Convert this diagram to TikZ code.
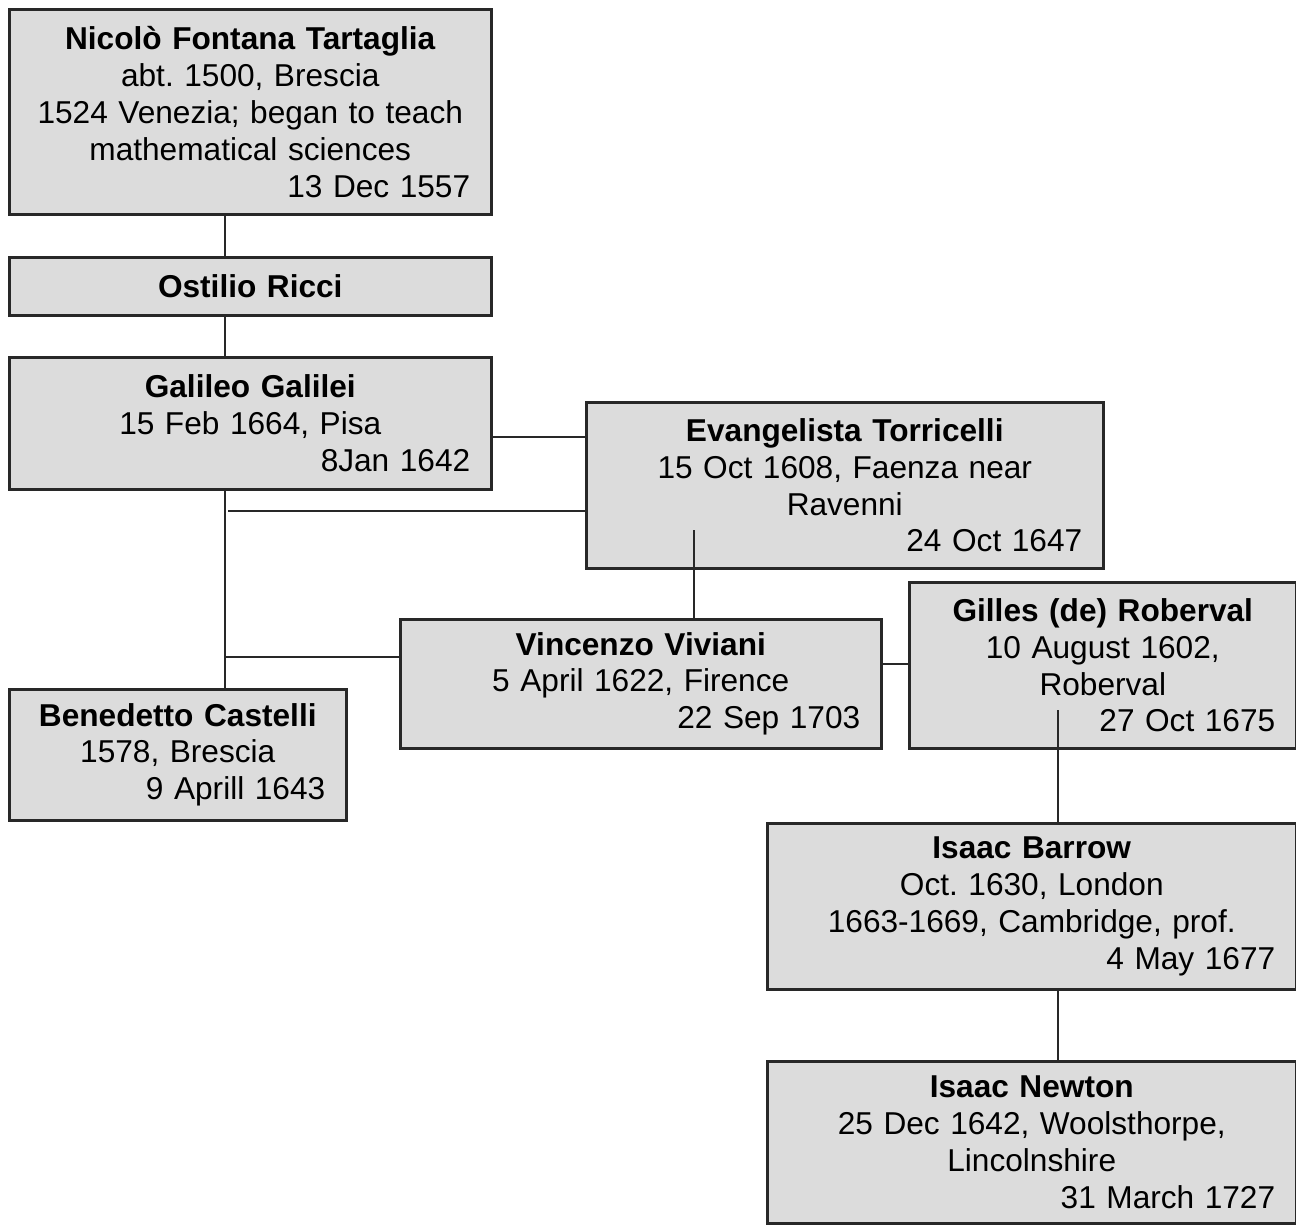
\documentclass[tikz,border=0pt]{standalone}
\usepackage{fontspec}
\setmainfont{Liberation Sans}
\usepackage{xcolor}
\definecolor{boxgray}{RGB}{220,220,220}
\definecolor{boxline}{RGB}{40,40,40}
\newcommand{\died}[1]{\\\makebox[\linewidth][r]{#1}}
\frenchspacing

\begin{document}
\begin{tikzpicture}[x=0.02cm,y=-0.02cm]
    \tikzset{person/.style={draw=boxline,fill=boxgray,line width=1.5pt,anchor=north west,inner xsep=0.42cm,inner ysep=0pt,align=center,font=\fontsize{18}{21}\selectfont}}
    \tikzset{link/.style={draw=boxline,line width=1.2pt}}
    \useasboundingbox (0,0) rectangle (1296,1225);
    % people
    \node[person,text width=8.8cm,minimum width=9.64cm,minimum height=4.1cm] (tartaglia) at (8,8) {\textbf{Nicolò Fontana Tartaglia}\\abt. 1500, Brescia\\1524 Venezia; began to teach\\mathematical sciences\died{13 Dec 1557}};
    \node[person,text width=8.8cm,minimum width=9.64cm,minimum height=1.16cm] (ricci) at (8,256) {\textbf{Ostilio Ricci}};
    \node[person,text width=8.8cm,minimum width=9.64cm,minimum height=2.64cm] (galilei) at (8,356) {\textbf{Galileo Galilei}\\15 Feb 1664, Pisa\died{8Jan 1642}};
    \node[person,text width=9.5cm,minimum width=10.34cm,minimum height=3.32cm] (torricelli) at (585,401) {\textbf{Evangelista Torricelli}\\15 Oct 1608, Faenza near\\Ravenni\died{24 Oct 1647}};
    \node[person,text width=8.78cm,minimum width=9.62cm,minimum height=2.58cm] (viviani) at (399,618) {\textbf{Vincenzo Viviani}\\5 April 1622, Firence\died{22 Sep 1703}};
    \node[person,text width=6.9cm,minimum width=7.74cm,minimum height=3.32cm] (roberval) at (908,581) {\textbf{Gilles (de) Roberval}\\10 August 1602,\\Roberval\died{27 Oct 1675}};
    \node[person,text width=5.9cm,minimum width=6.74cm,minimum height=2.62cm] (castelli) at (8,688) {\textbf{Benedetto Castelli}\\1578, Brescia\died{9 Aprill 1643}};
    \node[person,text width=9.74cm,minimum width=10.58cm,minimum height=3.32cm] (barrow) at (766,822) {\textbf{Isaac Barrow}\\Oct. 1630, London\\1663-1669, Cambridge, prof.\died{4 May 1677}};
    \node[person,text width=9.74cm,minimum width=10.58cm,minimum height=3.24cm] (newton) at (766,1060) {\textbf{Isaac Newton}\\25 Dec 1642, Woolsthorpe,\\Lincolnshire\died{31 March 1727}};
    % connectors
    \coordinate (trunk) at (225,0);
    \coordinate (galbranch) at (228,511);
    \coordinate (vivbranch) at (225,657);
    \coordinate (torrdrop) at (694,530);
    \coordinate (robdrop) at (1058,710);
    \draw[link] (tartaglia.south -| trunk) -- (ricci.north -| trunk);
    \draw[link] (ricci.south -| trunk) -- (galilei.north -| trunk);
    \draw[link] (galilei.south -| trunk) -- (castelli.north -| trunk);
    \draw[link] (galilei.east |- 0,437) -- (torricelli.west |- 0,437);
    \draw[link] (galbranch) -- (torricelli.west |- galbranch);
    \draw[link] (vivbranch) -- (viviani.west |- vivbranch);
    \draw[link] (torrdrop) -- (torrdrop |- viviani.north);
    \draw[link] (viviani.east |- 0,664) -- (roberval.west |- 0,664);
    \draw[link] (robdrop) -- (robdrop |- barrow.north);
    \draw[link] (barrow.south -| robdrop) -- (newton.north -| robdrop);
\end{tikzpicture}
\end{document}
